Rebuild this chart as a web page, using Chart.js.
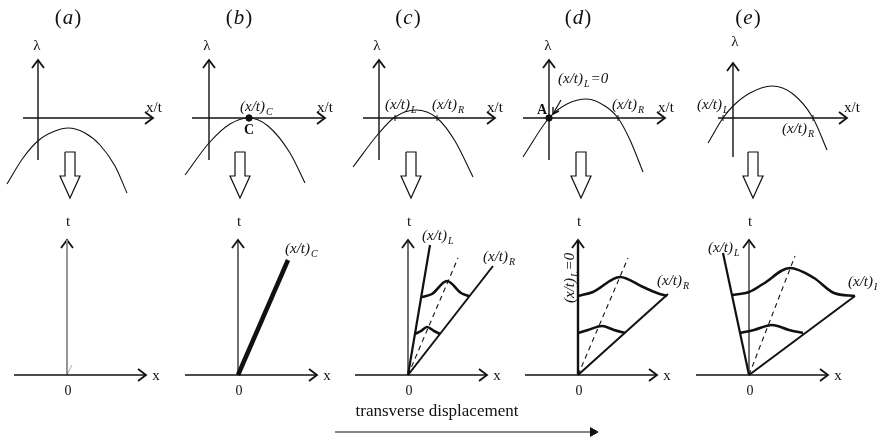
<!DOCTYPE html>
<html>
<head>
<meta charset="utf-8">
<script src="https://cdn.jsdelivr.net/npm/chart.js"></script>
<style>
  body { margin: 0; background: #fff; }
  #wrap { width: 877px; height: 443px; position: relative; }
</style>
</head>
<body>
<div id="wrap"><canvas id="myChart"></canvas></div>
<script>
// ---- data: curves, local units (x/t or x to the right, lambda or t upward)
const panelNames = ['a', 'b', 'c', 'd', 'e'];

// lambda(x/t) curves, upper row
const lambdaA = [[-31,-66],[-15,-40],[1,-22],[17,-13],[30,-10],[47,-15],[62,-27],[77,-48],[89,-75]];
const lambdaB = [[-24,-57],[0,-25],[21,-6],[40,0],[59,-8],[81,-35],[96,-65]];
const lambdaC = [[-26,-49],[0,-15],[16,1],[37,8],[58,0],[76,-23],[94,-59]];
const lambdaD = [[-26,-39],[0,0],[18,14],[38,19],[56,12],[69,0],[81,-22],[94,-54]];
const lambdaE = [[-25,-25],[-10,0],[0,12],[17,25],[39,32],[60,24],[80,0],[94,-32]];

// characteristics in the x-t plane, lower row
const charB = [[0,0],[50,115]];
const charLC = [[0,0],[22,130]];
const charRC = [[0,0],[85,109]];
const dashC = [[0,0],[50,117]];
const charLD = [[0,0],[0,135]];
const charRD = [[0,0],[90,81]];
const dashD = [[0,0],[50,117]];
const charLE = [[0,0],[-26,122]];
const charRE = [[0,0],[106,79]];
const dashE = [[0,0],[46,119]];

// wave profiles
const waveC1 = [[14,78],[24,81],[39,94],[53,82],[61,79]];
const waveC2 = [[7,41],[13,44],[19,48],[26,44],[32,41]];
const waveD1 = [[0,79],[15,83],[42,98],[65,88],[79,82],[89,79]];
const waveD2 = [[0,42],[10,45],[24,49],[36,45],[47,42]];
const waveE1 = [[-17,80],[0,83],[14,91],[41,107],[65,97],[85,82],[106,79]];
const waveE2 = [[-9,42],[5,45],[23,50],[40,45],[54,42]];

// ---- layout
const H = 443;
const UP = 325, LOW = 68;               // chart y of lambda=0 and t=0
const upX = [38, 209, 379, 549, 733];
const lowX = [67, 238, 408, 578, 749];
const arrowX = [70, 240, 411, 581, 753];
const hAxis = [[-15,115],[-17,116],[-16,116],[-26,116],[-15,114]];
const vAxis = [[-42,58],[-42,58],[-42,58],[-42,58],[-39,55]];
const lambdas = [lambdaA, lambdaB, lambdaC, lambdaD, lambdaE];

const ink = '#111';
const datasets = [];

function place(pts, ox, oy) {
  return pts.map(p => ({ x: ox + p[0], y: oy + p[1] }));
}
function addLine(pts, ox, oy, opt) {
  datasets.push(Object.assign({
    data: place(pts, ox, oy), showLine: true, pointRadius: 0,
    borderColor: ink, borderWidth: 1.3, fill: false, tension: 0
  }, opt || {}));
}
function axisArrows(ox, oy, x0, x1, y0, y1) {
  addLine([[x0,0],[x1,0]], ox, oy, { borderWidth: 1.4 });
  addLine([[x1-8,6],[x1,0],[x1-8,-6]], ox, oy, { borderWidth: 1.8 });
  addLine([[0,y0],[0,y1]], ox, oy, { borderWidth: 1.4 });
  addLine([[-6,y1-8],[0,y1],[6,y1-8]], ox, oy, { borderWidth: 1.8 });
}

for (let i = 0; i < 5; i++) {
  axisArrows(upX[i], UP, hAxis[i][0], hAxis[i][1], vAxis[i][0], vAxis[i][1]);
  addLine(lambdas[i], upX[i], UP, { borderWidth: 1.1, cubicInterpolationMode: 'monotone' });
  // hollow down arrow
  addLine([[-5,0],[5,0],[5,-24],[10,-24],[0,-46],[-10,-24],[-5,-24],[-5,0]], arrowX[i], H - 152, { borderWidth: 1.2 });
  // lower x-t axes
  const lx = lowX[i];
  addLine([[-53,0],[79,0]], lx, LOW, { borderWidth: 1.4 });
  addLine([[71,6],[79,0],[71,-6]], lx, LOW, { borderWidth: 1.8 });
  if (i !== 3) {
    addLine([[0,0],[0,135]], lx, LOW, { borderColor: i === 0 ? '#8a8a8a' : ink, borderWidth: i === 0 ? 1.8 : 1.2 });
  }
  addLine([[-6,127],[0,135],[6,127]], lx, LOW, { borderWidth: 1.8 });
}

// tick marks on the x/t axes where the curve crosses
addLine([[16,-3],[16,3]], upX[2], UP, { borderWidth: 1 });
addLine([[58,-3],[58,3]], upX[2], UP, { borderWidth: 1 });
addLine([[69,-3],[69,3]], upX[3], UP, { borderWidth: 1 });
addLine([[-10,-3],[-10,3]], upX[4], UP, { borderWidth: 1 });
addLine([[80,-3],[80,3]], upX[4], UP, { borderWidth: 1 });

// pointer from (x/t)L=0 to A
addLine([[12,18],[4,4]], upX[3], UP, { borderWidth: 1.2 });
addLine([[4,11],[4,4],[10,7]], upX[3], UP, { borderWidth: 1.4 });

// lower row marks
addLine([[0,0],[5,10]], lowX[0], LOW, { borderColor: '#aaa', borderWidth: 1 });
addLine(charB, lowX[1], LOW, { borderWidth: 4.5 });
addLine(charLC, lowX[2], LOW, { borderWidth: 2.2 });
addLine(charRC, lowX[2], LOW, { borderWidth: 2 });
addLine(dashC, lowX[2], LOW, { borderWidth: 1.1, borderDash: [5, 4] });
addLine(waveC1, lowX[2], LOW, { borderWidth: 2.6, cubicInterpolationMode: 'monotone' });
addLine(waveC2, lowX[2], LOW, { borderWidth: 2.6, cubicInterpolationMode: 'monotone' });
addLine(charLD, lowX[3], LOW, { borderWidth: 2.4 });
addLine(charRD, lowX[3], LOW, { borderWidth: 2 });
addLine(dashD, lowX[3], LOW, { borderWidth: 1.1, borderDash: [5, 4] });
addLine(waveD1, lowX[3], LOW, { borderWidth: 2.6, cubicInterpolationMode: 'monotone' });
addLine(waveD2, lowX[3], LOW, { borderWidth: 2.6, cubicInterpolationMode: 'monotone' });
addLine(charLE, lowX[4], LOW, { borderWidth: 2.2 });
addLine(charRE, lowX[4], LOW, { borderWidth: 2 });
addLine(dashE, lowX[4], LOW, { borderWidth: 1.1, borderDash: [5, 4] });
addLine(waveE1, lowX[4], LOW, { borderWidth: 2.6, cubicInterpolationMode: 'monotone' });
addLine(waveE2, lowX[4], LOW, { borderWidth: 2.6, cubicInterpolationMode: 'monotone' });

// points C and A
datasets.push({ data: [{ x: upX[1] + 40, y: UP }, { x: upX[3], y: UP }], showLine: false,
  pointRadius: 3.2, pointBackgroundColor: ink, pointBorderColor: ink });

// bottom arrow with a solid head
datasets.push({ data: [{ x: 335, y: H - 432 }, { x: 593, y: H - 432 }], showLine: true,
  borderColor: ink, borderWidth: 1.1,
  pointRadius: [0, 5], pointStyle: 'triangle', rotation: 90,
  pointBackgroundColor: ink, pointBorderColor: ink, pointBorderWidth: 1 });

// ---- texts
const serif = '"Liberation Serif", "Times New Roman", serif';
function subLabel(ctx, x, y, main, s, tail) {
  ctx.textAlign = 'left';
  ctx.textBaseline = 'alphabetic';
  ctx.font = 'italic 15px ' + serif;
  ctx.fillText(main, x, y);
  const w = ctx.measureText(main).width;
  ctx.font = 'italic 10px ' + serif;
  ctx.fillText(s, x + w + 1, y + 4);
  if (tail) {
    const ws = ctx.measureText(s).width;
    ctx.font = 'italic 15px ' + serif;
    ctx.fillText(tail, x + w + ws + 2, y);
  }
}

const textPlugin = {
  id: 'texts',
  afterDraw(chart) {
    const ctx = chart.ctx;
    const sx = chart.scales.x, sy = chart.scales.y;
    const X = v => sx.getPixelForValue(v);
    const Y = py => sy.getPixelForValue(H - py);
    ctx.save();
    ctx.fillStyle = ink;

    // titles (a)..(e)
    const titleX = [68, 239, 408, 578, 748];
    for (let i = 0; i < 5; i++) {
      ctx.font = '21px ' + serif;
      const pw = ctx.measureText('(').width;
      ctx.font = 'italic 21px ' + serif;
      const lw = ctx.measureText(panelNames[i]).width;
      const total = pw * 2 + lw + 2;
      const x = X(titleX[i]) - total / 2;
      ctx.textAlign = 'left'; ctx.textBaseline = 'middle';
      ctx.font = '21px ' + serif; ctx.fillText('(', x, Y(18));
      ctx.font = 'italic 21px ' + serif; ctx.fillText(panelNames[i], x + pw + 1, Y(18));
      ctx.font = '21px ' + serif; ctx.fillText(')', x + pw + lw + 2, Y(18));
    }

    ctx.textAlign = 'center'; ctx.textBaseline = 'middle';
    ctx.font = '15px ' + serif;
    const lamX = [37, 207, 377, 548, 735];
    const lamY = [46, 46, 46, 46, 42];
    const xtX = [154, 325, 495, 666, 852];
    for (let i = 0; i < 5; i++) {
      ctx.fillText('λ', X(lamX[i]), Y(lamY[i]));
      ctx.fillText('x/t', X(xtX[i]), Y(108));
      ctx.fillText('t', X(lowX[i] + 1), Y(222));
      ctx.fillText('x', X(lowX[i] + 89), Y(376));
      ctx.font = '14px ' + serif;
      ctx.fillText('0', X(lowX[i] + 1), Y(391));
      ctx.font = '15px ' + serif;
    }
    ctx.font = 'bold 14px ' + serif;
    ctx.fillText('C', X(249), Y(130));
    ctx.fillText('A', X(542), Y(110));

    // subscripted labels
    subLabel(ctx, X(240), Y(111), '(x/t)', 'C');
    subLabel(ctx, X(385), Y(109), '(x/t)', 'L');
    subLabel(ctx, X(432), Y(109), '(x/t)', 'R');
    subLabel(ctx, X(558), Y(83), '(x/t)', 'L', '=0');
    subLabel(ctx, X(612), Y(109), '(x/t)', 'R');
    subLabel(ctx, X(697), Y(109), '(x/t)', 'L');
    subLabel(ctx, X(782), Y(133), '(x/t)', 'R');
    subLabel(ctx, X(285), Y(253), '(x/t)', 'C');
    subLabel(ctx, X(422), Y(240), '(x/t)', 'L');
    subLabel(ctx, X(483), Y(261), '(x/t)', 'R');
    subLabel(ctx, X(657), Y(285), '(x/t)', 'R');
    subLabel(ctx, X(708), Y(252), '(x/t)', 'L');
    subLabel(ctx, X(848), Y(286), '(x/t)', 'R');

    // vertical label along the t axis of (d)
    ctx.save();
    ctx.translate(X(574), Y(303));
    ctx.rotate(-Math.PI / 2);
    subLabel(ctx, 0, 0, '(x/t)', 'L', '=0');
    ctx.restore();

    ctx.textAlign = 'center'; ctx.textBaseline = 'alphabetic';
    ctx.font = '17px ' + serif;
    ctx.fillText('transverse displacement', X(437), Y(416));
    ctx.restore();
  }
};

new Chart(document.getElementById('myChart'), {
  type: 'scatter',
  data: { datasets: datasets },
  options: {
    responsive: true,
    maintainAspectRatio: false,
    animation: false,
    layout: { padding: 0, autoPadding: false },
    plugins: { legend: { display: false }, tooltip: { enabled: false } },
    scales: {
      x: { type: 'linear', min: 0, max: 877, display: false },
      y: { type: 'linear', min: 0, max: H, display: false }
    }
  },
  plugins: [textPlugin]
});
</script>
</body>
</html>
